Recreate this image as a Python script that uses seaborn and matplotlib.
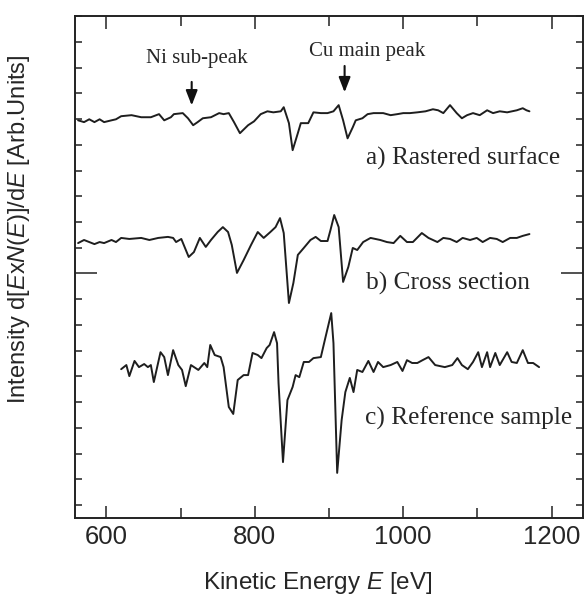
import numpy as np
import pandas as pd
import matplotlib
matplotlib.use("Agg")
import matplotlib.pyplot as plt
import seaborn as sns
from matplotlib.ticker import MultipleLocator, FixedLocator

# spettri (energia in eV, intensita' relativa alla linea di base)
energia_a = [562, 570, 577, 584, 591, 597, 607, 613, 620, 634, 647, 660, 671, 678, 687, 691,
             703, 710, 717, 723, 730, 741, 752, 758, 765, 772, 780, 791, 799, 808, 817, 825,
             835, 839, 846, 851, 858, 862, 867, 872, 879, 889, 898, 906, 913, 919, 925, 932,
             936, 945, 952, 960, 973, 983, 992, 1000, 1009, 1019, 1030, 1040, 1047, 1054,
             1063, 1072, 1079, 1086, 1094, 1103, 1113, 1121, 1130, 1140, 1153, 1161, 1166, 1170]
segnale_a = [-0.12, -0.19, -0.08, -0.19, -0.08, -0.19, -0.12, -0.08, 0.04, 0.08, 0.0, 0.0,
             0.12, -0.12, 0.0, 0.12, 0.16, -0.04, -0.31, -0.19, -0.04, 0.0, 0.16, 0.12, 0.16,
             -0.19, -0.62, -0.31, -0.16, 0.12, 0.23, 0.19, 0.23, 0.39, -0.23, -1.28, -0.62,
             -0.23, -0.23, -0.23, 0.19, 0.16, 0.16, 0.23, 0.47, -0.12, -0.82, -0.39, -0.12,
             -0.04, 0.12, 0.16, 0.16, 0.08, 0.12, 0.16, 0.16, 0.19, 0.23, 0.31, 0.27, 0.16,
             0.47, 0.16, -0.04, 0.08, 0.16, 0.08, 0.27, 0.16, 0.23, 0.19, 0.27, 0.35, 0.27, 0.23]

energia_b = [562, 570, 577, 584, 591, 597, 607, 613, 620, 631, 647, 658, 670, 683, 690, 694,
             701, 711, 718, 726, 734, 741, 750, 757, 764, 769, 776, 785, 795, 804, 812, 821,
             828, 834, 839, 846, 852, 858, 866, 875, 882, 889, 898, 902, 907, 913, 919, 926,
             932, 938, 946, 956, 969, 978, 987, 996, 1005, 1013, 1025, 1034, 1046, 1054, 1063,
             1072, 1080, 1090, 1099, 1107, 1117, 1126, 1134, 1144, 1153, 1161, 1170]
segnale_b = [-0.12, 0.0, -0.08, -0.16, -0.08, -0.12, 0.0, -0.08, 0.08, 0.04, 0.08, 0.0, 0.08,
             0.12, 0.08, -0.08, 0.04, -0.66, -0.47, 0.08, -0.27, 0.0, 0.31, 0.50, 0.31, -0.19,
             -1.28, -0.78, -0.19, 0.31, 0.08, 0.31, 0.50, 0.85, 0.27, -2.45, -1.67, -0.58,
             -0.31, 0.0, 0.12, -0.04, -0.04, 0.39, 0.97, 0.50, -1.63, -1.05, -0.31, -0.39,
             -0.08, 0.08, 0.0, -0.08, -0.12, 0.16, -0.08, -0.08, 0.27, 0.08, -0.08, 0.08, 0.04,
             -0.08, 0.08, 0.0, 0.08, -0.08, 0.08, 0.04, -0.08, 0.08, 0.08, 0.16, 0.23]

energia_c = [620, 627, 631, 638, 644, 651, 656, 660, 664, 673, 678, 683, 690, 697, 702, 707,
             714, 724, 732, 736, 740, 746, 754, 758, 765, 771, 777, 785, 791, 797, 804, 809,
             816, 820, 826, 830, 832, 838, 844, 851, 855, 860, 866, 873, 879, 889, 895, 903,
             906, 911, 917, 922, 928, 933, 938, 945, 953, 960, 966, 973, 983, 992, 999, 1005,
             1012, 1019, 1026, 1034, 1043, 1056, 1066, 1073, 1079, 1087, 1094, 1101, 1106,
             1113, 1117, 1124, 1130, 1140, 1146, 1153, 1161, 1168, 1175, 1183]
segnale_c = [-0.16, 0.0, -0.43, 0.16, -0.08, 0.04, -0.08, 0.0, -0.66, 0.50, 0.31, -0.39, 0.58,
             0.0, -0.19, -0.82, 0.0, -0.19, 0.08, -0.08, 0.78, 0.39, 0.31, -0.08, -1.63, -1.90,
             -0.58, -0.39, -0.39, 0.47, 0.39, 0.27, 0.66, 0.78, 1.28, 0.85, -0.70, -3.77, -1.36,
             -0.85, -0.39, -0.47, 0.12, 0.12, 0.27, 0.31, 1.05, 2.02, 0.85, -4.19, -2.14, -1.05,
             -0.50, -1.05, -0.19, -0.27, 0.16, -0.27, 0.12, -0.08, 0.0, 0.12, -0.23, 0.19, 0.08,
             0.08, 0.19, 0.31, 0.0, -0.08, 0.0, 0.27, 0.0, -0.16, 0.12, 0.50, -0.08, 0.50, -0.08,
             0.47, 0.0, 0.50, 0.12, 0.08, 0.58, 0.08, 0.08, -0.08]

# spostamento verticale di ogni spettro
offset_spettri = {"a": 15.07, "b": 10.30, "c": 5.44}
etichette = {"a": "a) Rastered surface", "b": "b) Cross section", "c": "c) Reference sample"}

# metto tutto in un dataframe lungo
df = pd.concat([
    pd.DataFrame({"E": energia_a, "I": np.array(segnale_a) + offset_spettri["a"], "campione": "a"}),
    pd.DataFrame({"E": energia_b, "I": np.array(segnale_b) + offset_spettri["b"], "campione": "b"}),
    pd.DataFrame({"E": energia_c, "I": np.array(segnale_c) + offset_spettri["c"], "campione": "c"}),
])

sns.set_style("ticks")
plt.rcParams["mathtext.fontset"] = "custom"
plt.rcParams["mathtext.it"] = "Liberation Sans:italic"
plt.rcParams["mathtext.rm"] = "Liberation Sans"
plt.rcParams["font.family"] = ["Liberation Sans", "DejaVu Sans"]

fig = plt.figure(figsize=(5.87, 5.96), dpi=100)
ax = fig.add_axes([0.128, 0.131, 0.865, 0.842])

for nome, gruppo in df.groupby("campione"):
    sns.lineplot(data=gruppo, x="E", y="I", ax=ax, color="#1e1e1e", linewidth=1.4,
                 estimator=None, sort=False, legend=False)

ax.set_xlim(558, 1242)
ax.set_ylim(-0.5, 19)
ax.xaxis.set_major_locator(FixedLocator([600, 800, 1000, 1200]))
ax.xaxis.set_minor_locator(MultipleLocator(100))
ax.yaxis.set_major_locator(FixedLocator([9]))
ax.yaxis.set_minor_locator(MultipleLocator(1))
ax.set_yticklabels([])
ax.tick_params(which="both", direction="in", top=True, right=True, width=1.1, color="#222")
ax.tick_params(axis="x", which="major", length=9, labelsize=18.5, pad=5)
ax.tick_params(axis="x", which="minor", length=7)
ax.tick_params(axis="y", which="major", length=16)
ax.tick_params(axis="y", which="minor", length=5)
for sp in ax.spines.values():
    sp.set_linewidth(1.4)
    sp.set_color("#222")

ax.set_xlabel("Kinetic Energy $E$ [eV]", fontsize=17.5, va="center")
ax.xaxis.set_label_coords(0.478, -0.129)
ax.set_ylabel("Intensity d[$E$x$N$($E$)]/d$E$ [Arb.Units]", fontsize=17, va="center")
ax.yaxis.set_label_coords(-0.11, 0.576)

serif = ["Liberation Serif", "DejaVu Serif"]
ax.text(1211, 13.48, etichette["a"], ha="right", va="center", fontsize=18.3, family=serif)
ax.text(1170, 8.63, etichette["b"], ha="right", va="center", fontsize=18.3, family=serif)
ax.text(1228, 3.38, etichette["c"], ha="right", va="center", fontsize=18.3, family=serif)

freccia = dict(arrowstyle="-|>,head_length=0.9,head_width=0.35", color="#111", lw=1.5)
ax.annotate("", xy=(715, 15.42), xytext=(715, 16.55), arrowprops=freccia)
ax.text(722, 17.36, "Ni sub-peak", ha="center", va="center", fontsize=15, family=serif)
ax.annotate("", xy=(921, 15.93), xytext=(921, 17.17), arrowprops=freccia)
ax.text(952, 17.64, "Cu main peak", ha="center", va="center", fontsize=15, family=serif)

plt.savefig("out.png", dpi=100)
